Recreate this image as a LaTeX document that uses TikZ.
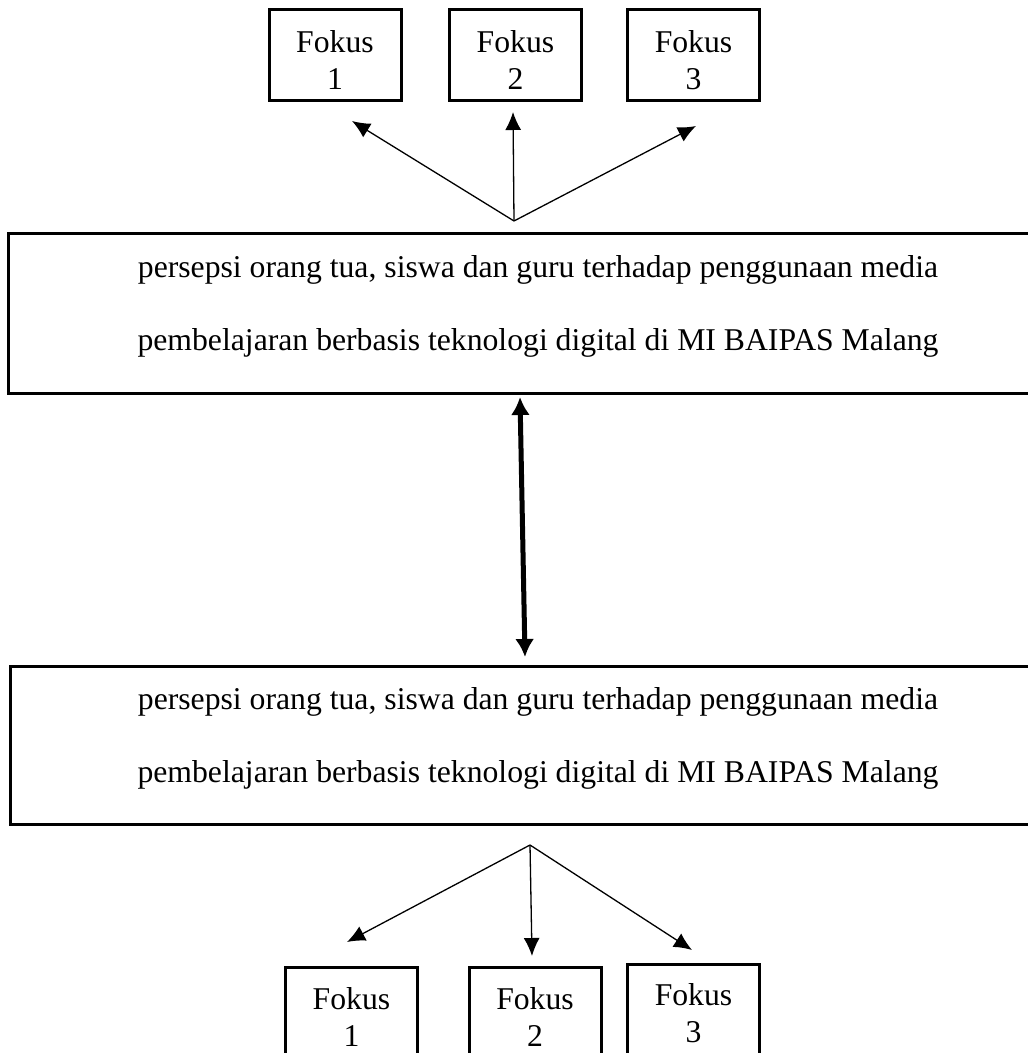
\documentclass[tikz,border=0pt]{standalone}
\usepackage{fontspec}
\setmainfont{Liberation Serif}
\usetikzlibrary{arrows.meta}

\begin{document}
\begin{tikzpicture}[x=0.5pt, y=-0.5pt,
    box/.style={draw, line width=1.5pt, inner sep=0pt},
    fokus/.style={box, minimum width=66pt, minimum height=45.5pt},
    lbl/.style={align=center, font=\fontsize{15.85}{18.8}\selectfont},
    wide/.style={align=center, font=\fontsize{15.85}{36.5}\selectfont},
    thin/.style={-{Latex[length=9pt,width=8pt]}, line width=0.65pt},
    both/.style={{Latex[length=9pt,width=9.5pt]}-{Latex[length=9pt,width=9.5pt]}, line width=2.5pt}]
    \useasboundingbox (0,0) rectangle (1027,1053);
    % top row
    \node[fokus] (f1) at (335,55) {};
    \node[fokus] (f2) at (515.5,55) {};
    \node[fokus] (f3) at (693.5,55) {};
    \foreach \i in {1,2,3}
        \node[lbl] (f\i t) at ([yshift=-2.6pt]f\i) {Fokus\\\i};
    \coordinate (topsrc) at (514,221);
    \coordinate (t1) at (352,121);
    \coordinate (t2) at (513,112);
    \coordinate (t3) at (696,126);
    \foreach \i in {1,2,3}
        \draw[thin] (topsrc) -- (t\i);
    % upper box
    \node[box, minimum width=511pt, minimum height=79.5pt] (persA) at (519,313.5) {};
    \node[wide] (persAt) at (538,306.5) {persepsi orang tua, siswa dan guru terhadap penggunaan media\\pembelajaran berbasis teknologi digital di MI BAIPAS Malang};
    \coordinate (upA) at (520,397);
    \coordinate (dnB) at (525,657);
    \draw[both] (upA) -- (dnB);
    % lower box
    \node[box, minimum width=510pt, minimum height=79pt] (persB) at (520,745) {};
    \node[wide] (persBt) at (538,738.5) {persepsi orang tua, siswa dan guru terhadap penggunaan media\\pembelajaran berbasis teknologi digital di MI BAIPAS Malang};
    \coordinate (botsrc) at (530,845);
    \coordinate (b1) at (347,942);
    \coordinate (b2) at (532,956);
    \coordinate (b3) at (692,950);
    \foreach \i in {1,2,3}
        \draw[thin] (botsrc) -- (b\i);
    % bottom row
    \node[fokus] (g1) at (351.5,1012.5) {};
    \node[fokus] (g2) at (535,1012.5) {};
    \node[fokus] (g3) at (693.5,1009.5) {};
    \node[lbl] (g1t) at (351.5,1017) {Fokus\\1};
    \node[lbl] (g2t) at (535,1017) {Fokus\\2};
    \node[lbl] (g3t) at (693.5,1013) {Fokus\\3};
\end{tikzpicture}
\end{document}
